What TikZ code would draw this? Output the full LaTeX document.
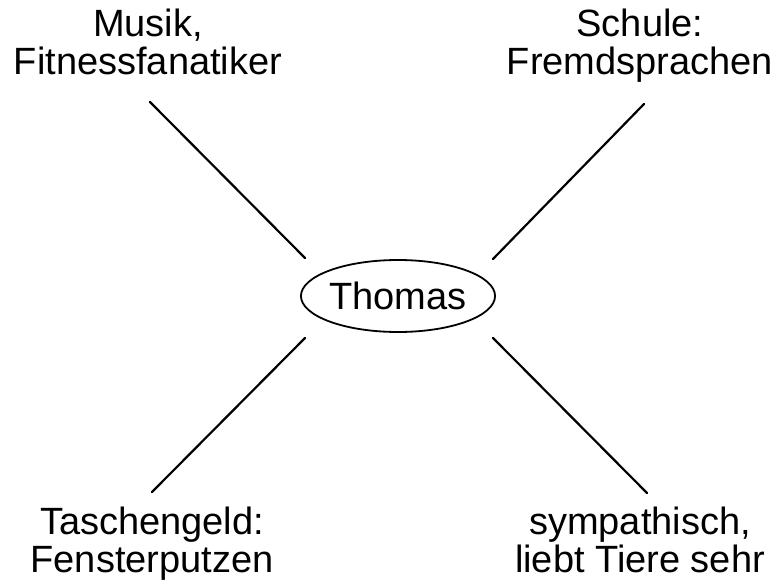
\documentclass[tikz,border=0pt]{standalone}
\usepackage{fontspec}
\setmainfont{Liberation Sans}
\usetikzlibrary{shapes.geometric}
\begin{document}
\begin{tikzpicture}[x=1pt,y=-1pt,
  label/.style={align=center,anchor=base,inner sep=0pt,
    font=\fontsize{38}{38}\selectfont},
  spoke/.style={line width=2.2pt,line cap=round},
  hub/.style={draw,ellipse,line width=1.8pt,inner sep=0pt,
    minimum width=186pt,minimum height=72pt,
    font=\fontsize{38}{40}\selectfont}]
\useasboundingbox (0,0) rectangle (783,585);
% central topic
\node[hub] (thomas) at (398,296) {Thomas};
% the four associations (anchored at the baseline of the second line)
\node[label] (tl) at (148,75) {Musik,\\Fitnessfanatiker};
\node[label] (tr) at (640,75) {Schule:\\Fremdsprachen};
\node[label] (bl) at (152,572) {Taschengeld:\\Fensterputzen};
\node[label] (br) at (640,572) {sympathisch,\\liebt Tiere sehr};
% spoke end points
\coordinate (tlA) at (150,102);
\coordinate (tlB) at (305,258);
\coordinate (trA) at (644,104);
\coordinate (trB) at (493,259);
\coordinate (blA) at (305,338);
\coordinate (blB) at (152,492);
\coordinate (brA) at (493,338);
\coordinate (brB) at (647,493);
\draw[spoke] (tlA) -- (tlB);
\draw[spoke] (trA) -- (trB);
\draw[spoke] (blA) -- (blB);
\draw[spoke] (brA) -- (brB);
\end{tikzpicture}
\end{document}
